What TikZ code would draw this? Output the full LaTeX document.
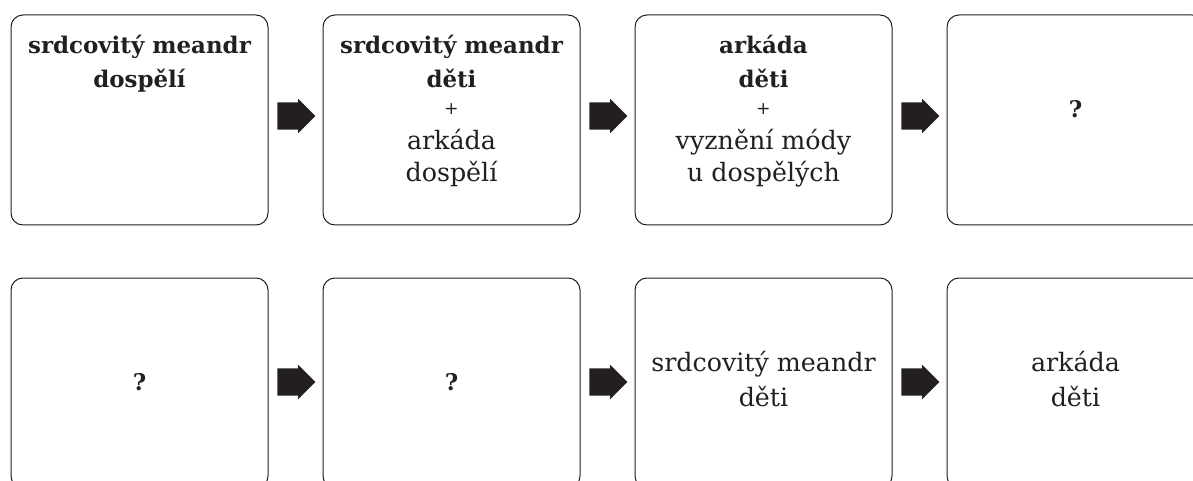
\documentclass[tikz,border=0pt]{standalone}
\usepackage{fontspec}
\setmainfont{DejaVu Serif}
\usetikzlibrary{positioning,calc,shapes.arrows}
\definecolor{ink}{RGB}{35,31,32}

\tikzset{
  panel/.style={draw=ink, line width=0.75pt, rounded corners=9pt, outer sep=0pt,
    minimum width=192.75pt, minimum height=157.5pt},
  boxtext/.style={text=ink, align=center, inner sep=0pt, outer sep=0pt,
    font=\fontsize{19}{24}\selectfont},
  flowarrow/.style={single arrow, fill=ink, inner xsep=0pt, inner ysep=10.1pt, anchor=tail,
    minimum height=28.5pt, single arrow head extend=2.6pt, single arrow tip angle=90},
  node distance=41.25pt
}
\newcommand{\strongtext}[1]{{\fontsize{17.2}{24}\selectfont\bfseries #1}}
\newcommand{\plussign}{{\fontsize{13}{15}\selectfont +}}

\begin{document}
\begin{tikzpicture}[x=0.75pt,y=-0.75pt]
  \useasboundingbox (0,0) rectangle (1193,481);
  \clip (0,0) rectangle (1193,481);

  % upper row
  \node[panel] (b1) at (139.5,120) {};
  \node[panel, right=of b1] (b2) {};
  \node[panel, right=of b2] (b3) {};
  \node[panel, right=of b3] (b4) {};
  % lower row
  \node[panel, below=39.75pt of b1] (b5) {};
  \node[panel, right=of b5] (b6) {};
  \node[panel, right=of b6] (b7) {};
  \node[panel, right=of b7] (b8) {};

  \node[boxtext, below=15.4pt of b1.north] (t1) {\strongtext{srdcovitý meandr}\\[1.5pt]\strongtext{dospělí}};
  \node[boxtext, below=15.4pt of b2.north] (t2) {\strongtext{srdcovitý meandr}\\[1.5pt]\strongtext{děti}\\[-4pt]\plussign\\[2pt]arkáda\\dospělí};
  \node[boxtext, below=15.4pt of b3.north] (t3) {\strongtext{arkáda}\\[1.5pt]\strongtext{děti}\\[-4pt]\plussign\\[2pt]vyznění módy\\u dospělých};
  \node[boxtext, below=63.9pt of b4.north] (t4) {\strongtext{?}};
  \node[boxtext, below=71.4pt of b5.north] (t5) {\strongtext{?}};
  \node[boxtext, below=71.4pt of b6.north] (t6) {\strongtext{?}};
  \node[boxtext, below=55.3pt of b7.north] (t7) {srdcovitý meandr\\[2.25pt]děti};
  \node[boxtext, below=55.3pt of b8.north] (t8) {arkáda\\[2.25pt]děti};

  % arrows between panels
  \foreach \from in {b1,b2,b3}
    \node[flowarrow] (arr-\from) at ($(\from.east)+(9,-4)$) {};
  \foreach \from in {b5,b6,b7}
    \node[flowarrow] (arr-\from) at ($(\from.east)+(9,-1)$) {};
\end{tikzpicture}
\end{document}
